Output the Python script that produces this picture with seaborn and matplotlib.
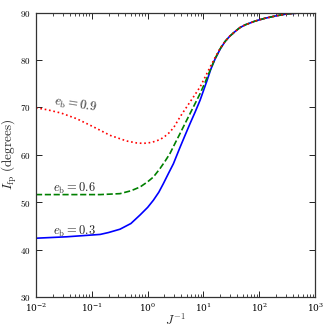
import matplotlib
matplotlib.use("Agg")
import matplotlib.pyplot as plt
import numpy as np
import pandas as pd
import seaborn as sns
from matplotlib.ticker import FuncFormatter, LogLocator

# values (x as log10 J^-1, y in degrees)
logx_03 = [-2.0, -1.45, -0.85, -0.7, -0.495, -0.3, -0.136, 0.0, 0.102, 0.2, 0.281, 0.37, 0.461, 0.581, 0.67,
           0.76, 0.85, 0.939, 1.059, 1.13, 1.208, 1.3, 1.387, 1.47, 1.566, 1.65, 1.746, 1.925, 2.104, 2.3, 2.49, 2.7, 3.0]
inc_03 = [42.4, 42.7, 43.2, 43.6, 44.3, 45.5, 47.3, 48.9, 50.4, 52.1, 53.9, 56.0, 58.1, 61.6, 64.1,
          66.6, 69.0, 71.5, 75.5, 78.0, 80.2, 82.3, 83.9, 85.0, 86.0, 86.8, 87.4, 88.2, 88.8, 89.3, 89.7, 89.9, 90.0]

logx_06 = [-2.0, -1.4, -0.85, -0.495, -0.3, -0.136, 0.0, 0.102, 0.222, 0.31, 0.401, 0.49, 0.581, 0.67, 0.76, 0.85,
           0.939, 1.03, 1.118, 1.208, 1.3, 1.387, 1.47, 1.566, 1.65, 1.746, 1.925, 2.104, 2.3, 2.49, 2.7, 3.0]
inc_06 = [51.6, 51.6, 51.6, 51.8, 52.4, 53.2, 54.3, 55.3, 57.1, 58.6, 60.3, 62.4, 64.5, 66.6, 68.7, 70.8,
          72.9, 75.3, 77.8, 80.3, 82.4, 83.9, 85.0, 86.0, 86.8, 87.4, 88.2, 88.8, 89.3, 89.7, 89.9, 90.0]

logx_09 = [-2.0, -1.8, -1.55, -1.27, -0.973, -0.674, -0.375, -0.2, -0.077, 0.07, 0.222, 0.31, 0.401, 0.48, 0.55, 0.62,
           0.70, 0.82, 0.939, 1.03, 1.118, 1.208, 1.3, 1.387, 1.47, 1.566, 1.65, 1.746, 1.925, 2.104, 2.3, 2.49, 2.7, 3.0]
inc_09 = [69.9, 69.5, 68.8, 67.6, 65.9, 64.1, 62.9, 62.5, 62.4, 62.6, 63.2, 63.9, 64.8, 66.0, 67.4, 68.7,
          70.1, 72.2, 74.3, 76.4, 78.5, 80.5, 82.5, 83.9, 85.0, 86.0, 86.8, 87.4, 88.2, 88.8, 89.3, 89.7, 89.9, 90.0]

eb_labels = ["0.3", "0.6", "0.9"]

sns.set_style("ticks")
plt.rcParams["font.family"] = ["DejaVu Serif"]
plt.rcParams["mathtext.fontset"] = "cm"

fig = plt.figure(figsize=(3.3, 3.3), dpi=100)
ax = fig.add_axes([0.109, 0.1, 0.846, 0.862])

series = [(logx_03, inc_03, "blue", "-", 1.2),
          (logx_06, inc_06, "green", "--", 1.2),
          (logx_09, inc_09, "red", ":", 1.2)]
for (lx, inc, col, ls, lw), lab in zip(series, eb_labels):
    df = pd.DataFrame({"J": 10.0 ** np.array(lx), "I": inc})
    sns.lineplot(data=df, x="J", y="I", ax=ax, color=col, linestyle=ls,
                 linewidth=lw, estimator=None, sort=False)

ax.set_xscale("log")
ax.set_xlim(1e-2, 1e3)
ax.set_ylim(30, 90)
ax.set_yticks(range(30, 91, 10))
ax.yaxis.set_major_formatter(FuncFormatter(lambda v, p: f"${int(v)}$"))
ax.xaxis.set_major_locator(LogLocator(base=10, numticks=10))
ax.xaxis.set_minor_locator(LogLocator(base=10, subs=np.arange(2, 10), numticks=20))
ax.tick_params(which="both", direction="in", top=True, right=True, labelsize=6.5, colors="black")
ax.tick_params(which="major", length=4, width=0.6)
ax.tick_params(which="minor", length=2, width=0.5)
for s in ax.spines.values():
    s.set_linewidth(0.9)
    s.set_color("#333333")

ax.set_xlabel(r"$J^{-1}$", fontsize=9, labelpad=-1)
ax.set_ylabel(r"$I_{\rm fp}\ (\rm degrees)$", fontsize=9.5, labelpad=1)

ax.text(0.0205, 70.6, r"$e_{\rm b} = 0.9$", fontsize=9, rotation=-9,
        rotation_mode="anchor", ha="left", va="baseline")
ax.text(0.0205, 52.2, r"$e_{\rm b} = 0.6$", fontsize=9, ha="left", va="baseline")
ax.text(0.0205, 43.1, r"$e_{\rm b} = 0.3$", fontsize=9, ha="left", va="baseline")

fig.savefig("out.png", dpi=100)
